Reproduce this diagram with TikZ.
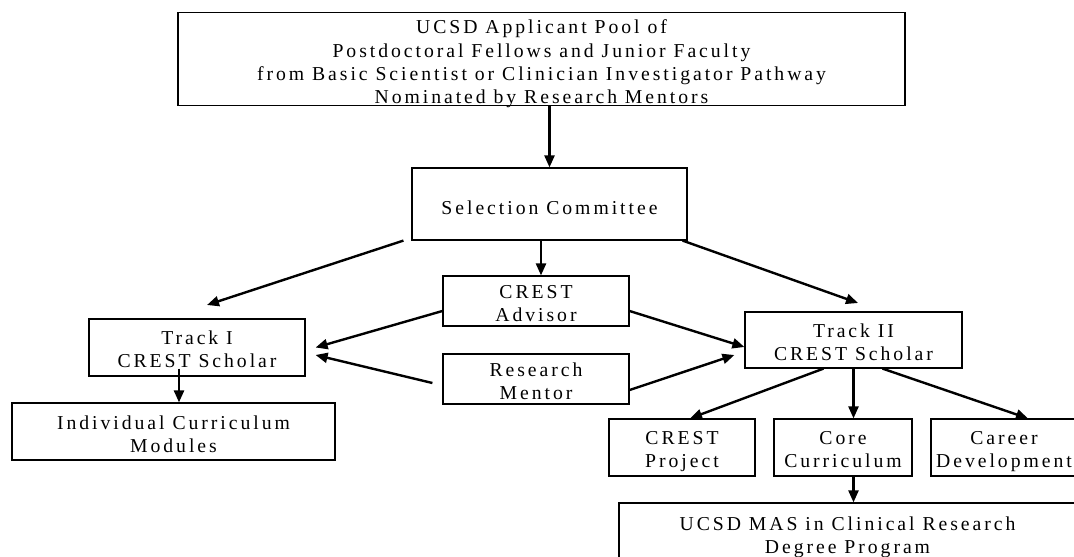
\documentclass[tikz,border=0pt]{standalone}
\usepackage{fontspec}
\setmainfont{Liberation Serif}[LetterSpace=15]
\usetikzlibrary{arrows.meta}
\newcommand{\btx}[2][4pt]{\raisebox{-#1}[\height][\depth]{\begin{tabular}{@{}c@{}}#2\end{tabular}}}
\begin{document}
\begin{tikzpicture}[x=1pt,y=-1pt,
  box/.style={draw=black, line width=1.2pt, inner sep=0pt, align=center,
    font=\fontsize{19.7}{23.2}\selectfont},
  conn/.style={line width=2.4pt, -{Triangle[length=12pt,width=10pt]}}]
\useasboundingbox (0,0) rectangle (1074,557);
% boxes
\node[box, minimum width=727, minimum height=92] (top) at (541.5,59)
  {\btx[5pt]{UCSD Applicant Pool of\\Postdoctoral Fellows and Junior Faculty\\from Basic Scientist or Clinician Investigator Pathway\\Nominated by Research Mentors}};
\node[box, minimum width=275, minimum height=72] (sel) at (549.5,204) {\btx[6pt]{Selection Committee}};
\node[box, minimum width=186, minimum height=50] (adv) at (536,301) {\btx[4.5pt]{CREST\\Advisor}};
\node[box, minimum width=186, minimum height=50] (men) at (536,379) {\btx[4.5pt]{Research\\Mentor}};
\node[box, minimum width=216, minimum height=57] (t1) at (197,347.5) {\btx[4pt]{Track I\\CREST Scholar}};
\node[box, minimum width=323, minimum height=57] (ind) at (173.5,431.5) {\btx[5pt]{Individual Curriculum\\Modules}};
\node[box, minimum width=217, minimum height=56] (t2) at (853.5,340) {\btx[4.5pt]{Track II\\CREST Scholar}};
\node[box, minimum width=146, minimum height=57] (proj) at (682,447.5) {\btx[3.5pt]{CREST\\Project}};
\node[box, minimum width=138, minimum height=57] (core) at (843,447.5) {\btx[3.5pt]{Core\\Curriculum}};
\node[box, minimum width=146, minimum height=57] (car) at (1004,447.5) {\btx[3.5pt]{Career\\Development}};
\node[box, minimum width=457, minimum height=64] (mas) at (847.5,535) {\btx[2pt]{UCSD MAS in Clinical Research\\Degree Program}};
% free arrow ends
\coordinate (c1) at (207,305);
\coordinate (c2) at (858,303);
% connectors
\draw[conn] (top.south -| sel.north) -- (sel.north);
\draw[conn] ([xshift=5pt]sel.south -| adv.north) -- ([xshift=5pt]adv.north);
\draw[conn] ([xshift=-8pt]sel.south west) -- (c1);
\draw[conn] ([xshift=-5pt]sel.south east) -- (c2);
\draw[conn] ([yshift=-10pt]adv.west) -- ([xshift=10pt]t1.east);
\draw[conn] ([xshift=-10pt,yshift=-4pt]men.west) -- ([xshift=10pt,yshift=-7.5pt]t1.east);
\draw[conn] ([yshift=-10pt]adv.east) -- ([yshift=-7pt]t2.west);
\draw[conn] ([yshift=-11pt]men.east) -- ([xshift=-10pt,yshift=-15pt]t2.west);
\draw[conn] ([xshift=-18pt,yshift=8pt]t1.south) -- ([xshift=-18pt]t1.south |- ind.north);
\draw[conn] ([xshift=-30pt]t2.south) -- ([xshift=8pt]proj.north);
\draw[conn] (t2.south) -- (t2.south |- core.north);
\draw[conn] ([xshift=29pt]t2.south) -- ([xshift=24pt]car.north);
\draw[conn] (t2.south |- core.south) -- (t2.south |- mas.north);
\end{tikzpicture}
\end{document}
